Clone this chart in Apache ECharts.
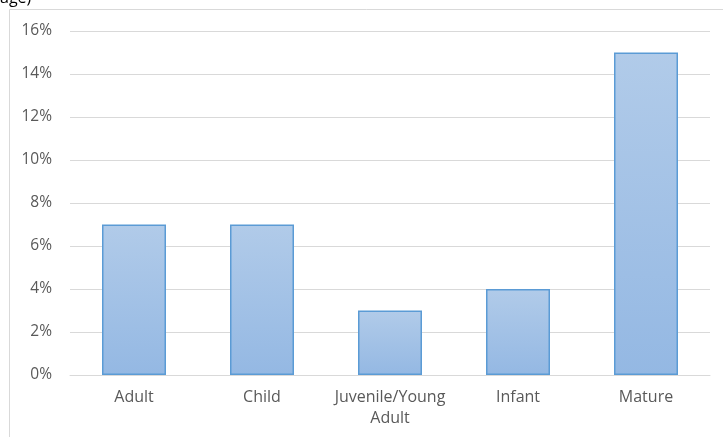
<!DOCTYPE html>
<html>
<head>
<meta charset="utf-8">
<script src="https://cdn.jsdelivr.net/npm/echarts@6/dist/echarts.min.js"></script>
<style>html,body{margin:0;padding:0;background:#fff;}#c{width:723px;height:437px;}</style>
</head>
<body>
<div id="c"></div>
<script>
var categories = ['Adult', 'Child', 'Juvenile/Young Adult', 'Infant', 'Mature'];
var values = [7, 7, 3, 4, 15];
var yTicks = [0, 2, 4, 6, 8, 10, 12, 14, 16];

var chart = echarts.init(document.getElementById('c'), null, {renderer: 'canvas'});
var font = 'Open Sans';
chart.setOption({
  animation: false,
  backgroundColor: '#fff',
  graphic: [
    {type: 'rect', shape: {x: 9.5, y: 9.5, width: 730, height: 450}, style: {fill: 'none', stroke: '#d9d9d9', lineWidth: 1}, z: -1},
    {type: 'text', left: 0, top: -10, style: {text: 'age)', fontFamily: font, fontSize: 16, fill: '#000'}}
  ],
  grid: {left: 70, right: 13, top: 31, bottom: 62, containLabel: false},
  xAxis: {
    type: 'category',
    data: categories,
    axisTick: {show: false},
    axisLine: {lineStyle: {color: '#d9d9d9', width: 1}},
    axisLabel: {
      color: '#595959', fontFamily: font, fontSize: 16, margin: 12, lineHeight: 21,
      interval: 0,
      formatter: function (v) { return v.replace(' ', '\n'); }
    }
  },
  yAxis: {
    type: 'value',
    min: yTicks[0], max: yTicks[yTicks.length - 1], interval: 2,
    axisLine: {show: false},
    axisTick: {show: false},
    splitLine: {lineStyle: {color: '#d9d9d9', width: 1}},
    axisLabel: {color: '#595959', fontFamily: font, fontSize: 15.5, margin: 18, formatter: '{value}%'}
  },
  series: [{
    type: 'bar',
    data: values,
    barWidth: '50%',
    itemStyle: {
      color: new echarts.graphic.LinearGradient(0, 0, 0, 1, [
        {offset: 0, color: '#b1cbe9'},
        {offset: 1, color: '#94b8e3'}
      ]),
      borderColor: '#5b9bd5',
      borderWidth: 1.5
    }
  }]
});
</script>
</body>
</html>
